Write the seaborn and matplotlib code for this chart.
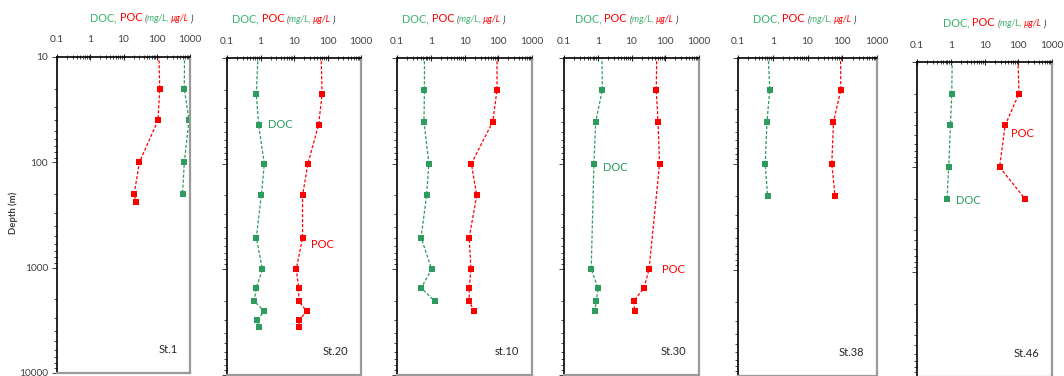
import matplotlib
matplotlib.use('Agg')
import matplotlib.pyplot as plt
from matplotlib.ticker import FixedLocator, FixedFormatter, LogLocator, NullFormatter
import pandas as pd
import seaborn as sns

# Istasyon verileri (derinlik m, DOC mg/L, POC ug/L) - 5 m = yuzey noktasi
stations = ['St.1', 'St.20', 'st.10', 'St.30', 'St.38', 'St.46']

st1_doc_depth = [5, 20, 40, 100, 200]
st1_doc = [700, 673, 933, 673, 598]
st1_poc_depth = [5, 20, 40, 100, 200, 240]
st1_poc = [110, 123, 109, 30, 21, 24]

st20_depth = [5, 22, 43, 100, 200, 500, 1000, 1500, 2000, 2500, 3000, 3500]
st20_doc = [0.92, 0.75, 0.88, 1.3, 1.06, 0.75, 1.14, 0.75, 0.65, 1.3, 0.79, 0.88]
st20_poc = [61, 69, 54, 26, 18, 18, 11.7, 13.8, 13.8, 24, 14.5, 13.8]

st10_doc_depth = [5, 20, 40, 100, 200, 500, 1000, 1500, 2000]
st10_doc = [0.65, 0.65, 0.63, 0.88, 0.75, 0.52, 1.06, 0.52, 1.3]
st10_poc_depth = [5, 20, 40, 100, 200, 500, 1000, 1500, 2000, 2500]
st10_poc = [92, 92, 69, 16, 23, 13.8, 15.5, 13.8, 13.8, 19.4]

st30_depth = [5, 20, 40, 100, 1000, 1500, 2000, 2500]
st30_doc = [1.3, 1.37, 0.87, 0.77, 0.64, 1.02, 0.91, 0.81]
st30_poc = [58, 54, 61, 68, 33, 23.5, 11.6, 12.4]

st38_depth = [5, 20, 40, 100, 200]
st38_doc = [0.68, 0.82, 0.68, 0.61, 0.71]
st38_poc = [88, 91, 56, 50, 62]

st46_depth = [5, 20, 40, 100, 200]
st46_doc = [1.14, 1.07, 0.98, 0.87, 0.78]
st46_poc = [93, 105, 41, 28, 157]

profiles = [
    (st1_doc_depth, st1_doc, st1_poc_depth, st1_poc),
    (st20_depth, st20_doc, st20_depth, st20_poc),
    (st10_doc_depth, st10_doc, st10_poc_depth, st10_poc),
    (st30_depth, st30_doc, st30_depth, st30_poc),
    (st38_depth, st38_doc, st38_depth, st38_poc),
    (st46_depth, st46_doc, st46_depth, st46_poc),
]

# panel ici etiketler: (panel, metin, x, derinlik)
inline_labels = [
    (1, 'DOC', 1.7, 43), (1, 'POC', 32, 577),
    (3, 'DOC', 1.43, 109), (3, 'POC', 80, 1000),
    (5, 'POC', 63, 48), (5, 'DOC', 1.44, 207),
]

GREEN = '#2e9b5f'
GREEN_T = '#3cb371'
RED = '#ff0000'

sns.set_theme(style='white')
plt.rcParams['font.family'] = ['Lato', 'DejaVu Sans']

W, H = 1064, 376
fig = plt.figure(figsize=(W / 100, H / 100), dpi=100)

# eksen kutulari (piksel)
p_left = [57, 227, 397, 564, 738, 917]
p_right = [190, 361, 532, 699, 877, 1052]
p_top = [57, 58, 58, 58, 58, 62]
p_bottom = [373, 375, 375, 375, 376, 377]
title_dx = [33, 5, 5, 11, 15, 26]

for i, (dd, doc, pd_, poc) in enumerate(profiles):
    l, r, t, b = p_left[i], p_right[i], p_top[i], p_bottom[i]
    ax = fig.add_axes([l / W, 1 - b / H, (r - l) / W, (b - t) / H])
    ax.set_xscale('log')
    ax.set_yscale('log')

    df_doc = pd.DataFrame({'conc': doc, 'depth': dd})
    df_poc = pd.DataFrame({'conc': poc, 'depth': pd_})
    for df, c in [(df_doc, GREEN), (df_poc, RED)]:
        sns.lineplot(data=df, x='conc', y='depth', sort=False, estimator=None,
                     color=c, marker='s', markersize=5, markeredgewidth=0,
                     linestyle=(0, (2.5, 1.5)), linewidth=0.9, ax=ax)

    ax.set_xlim(0.1, 1000)
    ax.set_ylim(10000, 10)
    ax.set_xlabel('')
    ax.set_ylabel('')

    ax.xaxis.tick_top()
    ax.xaxis.set_major_locator(FixedLocator([0.1, 1, 10, 100, 1000]))
    ax.xaxis.set_major_formatter(FixedFormatter(['0.1', '1', '10', '100', '1000']))
    ax.xaxis.set_minor_locator(LogLocator(base=10, subs=range(2, 10)))
    ax.xaxis.set_minor_formatter(NullFormatter())
    ax.tick_params(axis='x', which='major', direction='inout', length=4, width=0.8,
                   pad=7, labelsize=7.3, labelcolor='#404040', top=True, bottom=False)
    ax.tick_params(axis='x', which='minor', direction='inout', length=2.5, width=0.6,
                   top=True, bottom=False)

    ax.yaxis.set_major_locator(FixedLocator([10, 100, 1000, 10000]))
    ax.yaxis.set_minor_locator(LogLocator(base=10, subs=range(2, 10)))
    ax.yaxis.set_minor_formatter(NullFormatter())
    ax.tick_params(axis='y', which='major', direction='out', length=3.5, width=0.6,
                   left=True, labelsize=7.3, labelcolor='#404040', pad=3)
    ax.tick_params(axis='y', which='minor', direction='out', length=2, width=0.6, left=True)
    if i == 0:
        ax.yaxis.set_major_formatter(FixedFormatter(['10', '100', '1000', '10000']))
        ax.set_ylabel('Depth (m)', fontsize=6.8, fontweight='bold', color='#404040')
        ax.yaxis.set_label_coords((18 - l) / (r - l), 1 - (213 - t) / (b - t))
    else:
        ax.yaxis.set_major_formatter(NullFormatter())

    for side in ['left', 'top']:
        ax.spines[side].set_color('black')
        ax.spines[side].set_linewidth(1.2)
    for side in ['right', 'bottom']:
        ax.spines[side].set_color('#9a9a9a')
        ax.spines[side].set_linewidth(1.6)

    # istasyon adi
    ax.annotate(stations[i], xy=(1, 0), xycoords='axes fraction', xytext=(-9, 13),
                textcoords='offset points', ha='right', va='bottom',
                fontsize=8, color='#262626')

    # cok renkli baslik
    pieces = [('DOC, ', GREEN_T, 7.8, 'normal'), ('POC ', RED, 7.8, 'normal'),
              ('(', '#505050', 6.5, 'italic'), ('mg/L, ', GREEN_T, 6.5, 'italic'),
              ('µg/L', RED, 6.5, 'italic'), (' )', '#303030', 6.5, 'italic')]
    prev = None
    for txt, c, fs, st in pieces:
        if prev is None:
            prev = ax.annotate(txt, xy=(0, 1), xycoords='axes fraction',
                               xytext=(title_dx[i] * 0.72, 40 * 0.72 - 3),
                               textcoords='offset points', ha='left', va='baseline',
                               fontsize=fs, color=c, style=st)
        else:
            prev = ax.annotate(txt, xy=(1, 0), xycoords=prev, xytext=(0, 0),
                               textcoords='offset points', ha='left', va='bottom',
                               fontsize=fs, color=c, style=st)

for p, txt, xv, dv in inline_labels:
    ax = fig.axes[p]
    ax.text(xv, dv, txt, color=GREEN if txt == 'DOC' else RED, fontsize=8,
            ha='left', va='center')

fig.savefig('out.png', dpi=100)
